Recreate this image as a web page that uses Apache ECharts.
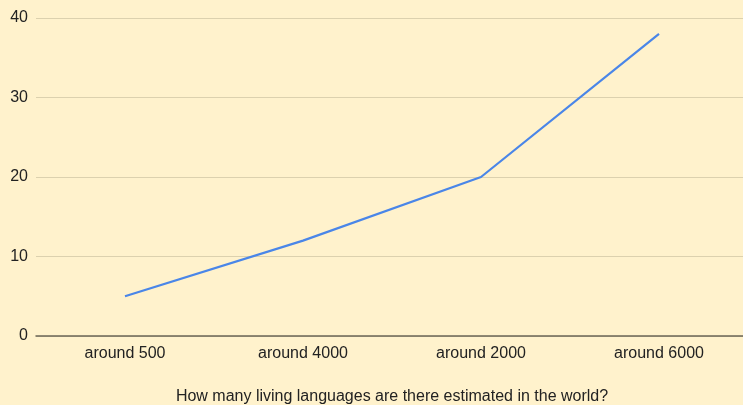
<!DOCTYPE html>
<html><head><meta charset="utf-8">
<script src="https://cdn.jsdelivr.net/npm/echarts@6/dist/echarts.min.js"></script>
<style>html,body{margin:0;padding:0;background:#FFF2CC}#c{width:743px;height:405px}</style>
</head><body><div id="c"></div>
<script>
const categories = ['around 500', 'around 4000', 'around 2000', 'around 6000'];
const values = [5, 12, 20, 38];
const yTicks = [0, 10, 20, 30, 40];
const xTitle = 'How many living languages are there estimated in the world?';

const FONT = 'Arial, "Liberation Sans", sans-serif';
const chart = echarts.init(document.getElementById('c'));
chart.setOption({
  backgroundColor: '#FFF2CC',
  animation: false,
  grid: { left: 36, width: 712, top: 18, bottom: 69, containLabel: false, outerBoundsMode: 'none' },
  xAxis: {
    type: 'category', data: categories, boundaryGap: true,
    name: xTitle, nameLocation: 'middle', nameGap: 53,
    nameTextStyle: { color: '#222', fontSize: 16, fontFamily: FONT },
    axisLine: { lineStyle: { color: '#6b6656', width: 1.5 } },
    axisTick: { show: false },
    axisLabel: { color: '#222', fontSize: 16, margin: 10, fontFamily: FONT }
  },
  yAxis: {
    type: 'value', min: yTicks[0], max: yTicks[yTicks.length - 1], interval: 10,
    axisLine: { show: false }, axisTick: { show: false },
    axisLabel: { color: '#222', fontSize: 16, margin: 8, fontFamily: FONT },
    splitLine: { lineStyle: { color: '#dcd1ae', width: 1.2 } }
  },
  series: [{
    type: 'line', data: values, symbol: 'none',
    lineStyle: { color: '#4A86E8', width: 2.2 }
  }]
});
</script></body></html>
